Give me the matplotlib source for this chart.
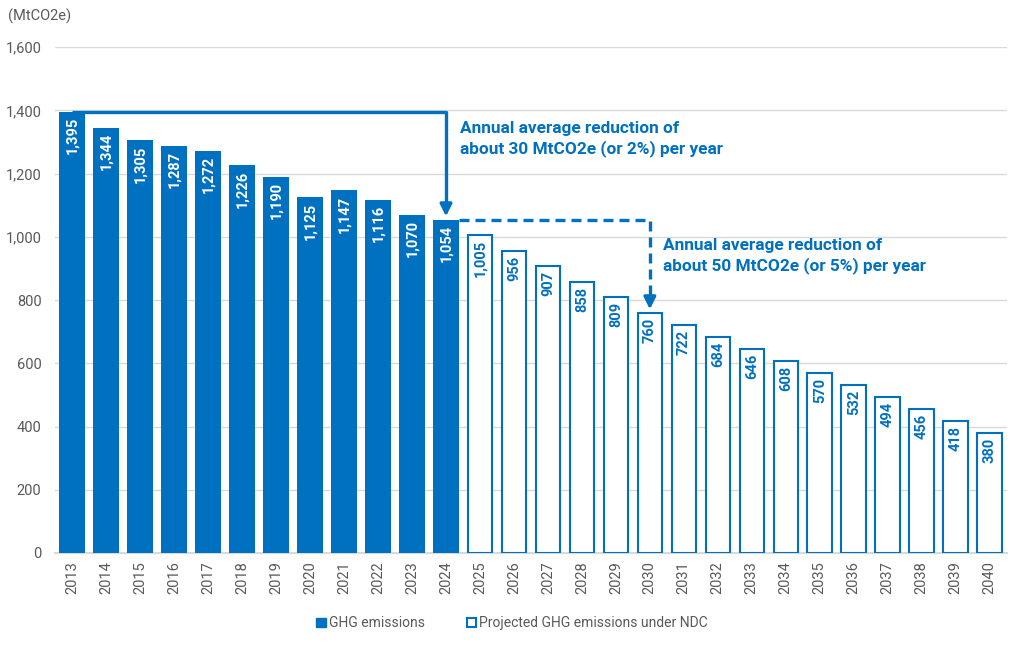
import matplotlib
matplotlib.use("Agg")
from matplotlib import pyplot as plt
from matplotlib.ticker import FuncFormatter
from matplotlib.patches import Patch

plt.rcParams['font.family'] = ['Roboto', 'DejaVu Sans']

years = list(range(2013, 2041))
actual = [1395, 1344, 1305, 1287, 1272, 1226, 1190, 1125, 1147, 1116, 1070, 1054]
projected = [1005, 956, 907, 858, 809, 760, 722, 684, 646, 608, 570, 532, 494, 456, 418, 380]

blue = '#0070C0'
grey = '#595959'
n_act = len(actual)

fig = plt.figure(figsize=(10.24, 6.46), dpi=100)
ax = fig.add_axes([0.054, 0.144, 0.929, 0.783])

x_act = list(range(n_act))
x_proj = list(range(n_act, n_act + len(projected)))
w = 0.76

ax.bar(x_act, actual, w, color=blue, zorder=3)
ax.bar(x_proj, projected, w - 0.04, facecolor='white', edgecolor=blue, linewidth=1.5, zorder=3)

for x, v in zip(x_act, actual):
    ax.text(x, v - 16, f'{v:,}', rotation=90, ha='center', va='top', color='white',
            fontsize=10.5, fontweight='bold', zorder=4)
for x, v in zip(x_proj, projected):
    ax.text(x, v - 16, f'{v:,}', rotation=90, ha='center', va='top', color=blue,
            fontsize=10.5, fontweight='bold', zorder=4)

# annotations
ax.plot([0, 11, 11], [1395, 1395, 1090], color=blue, lw=2.4, zorder=5, solid_capstyle='butt')
ax.annotate('', xy=(11, 1056), xytext=(11, 1100),
            arrowprops=dict(arrowstyle='-|>,head_width=0.35,head_length=0.7', color=blue, lw=2.4), zorder=5)
ax.plot([11.38, 17, 17], [1054, 1054, 795], color=blue, lw=2.4, ls=(0, (3, 1.8)), zorder=5)
ax.annotate('', xy=(17, 762), xytext=(17, 805),
            arrowprops=dict(arrowstyle='-|>,head_width=0.35,head_length=0.7', color=blue, lw=2.4), zorder=5)

ax.text(11.4, 1310, 'Annual average reduction of\nabout 30 MtCO2e (or 2%) per year', color=blue,
        fontsize=12.4, fontweight='bold', ha='left', va='center', linespacing=1.3)
ax.text(17.4, 940, 'Annual average reduction of\nabout 50 MtCO2e (or 5%) per year', color=blue,
        fontsize=12.4, fontweight='bold', ha='left', va='center', linespacing=1.3)

ax.set_xlim(-0.5, len(years) - 0.5)
ax.set_ylim(0, 1600)
ax.set_yticks(range(0, 1601, 200))
ax.yaxis.set_major_formatter(FuncFormatter(lambda v, p: f'{int(v):,}'))
ax.set_xticks(range(len(years)))
ax.set_xticklabels([str(y) for y in years], rotation=90)
ax.tick_params(axis='both', length=0, colors=grey, labelsize=10.5)
ax.tick_params(axis='x', pad=6)
ax.tick_params(axis='y', pad=10)
ax.grid(axis='y', color='#d9d9d9', lw=1, zorder=0)
for s in ['top', 'right', 'left']:
    ax.spines[s].set_visible(False)
ax.spines['bottom'].set_color('#d9d9d9')
ax.spines['bottom'].set_linewidth(1.5)

fig.text(0.008, 0.975, '(MtCO2e)', color=grey, fontsize=10.5, ha='left', va='center')

handles = [Patch(facecolor=blue, edgecolor=blue, label='GHG emissions'),
           Patch(facecolor='white', edgecolor=blue, linewidth=1.5, label='Projected GHG emissions under NDC')]
fig.legend(handles=handles, loc='center', bbox_to_anchor=(0.5, 0.035), ncol=2, frameon=False,
           fontsize=10, handlelength=0.7, handleheight=0.7, handletextpad=0.2, columnspacing=3,
           labelcolor=grey)

fig.savefig('out.png', dpi=100)
